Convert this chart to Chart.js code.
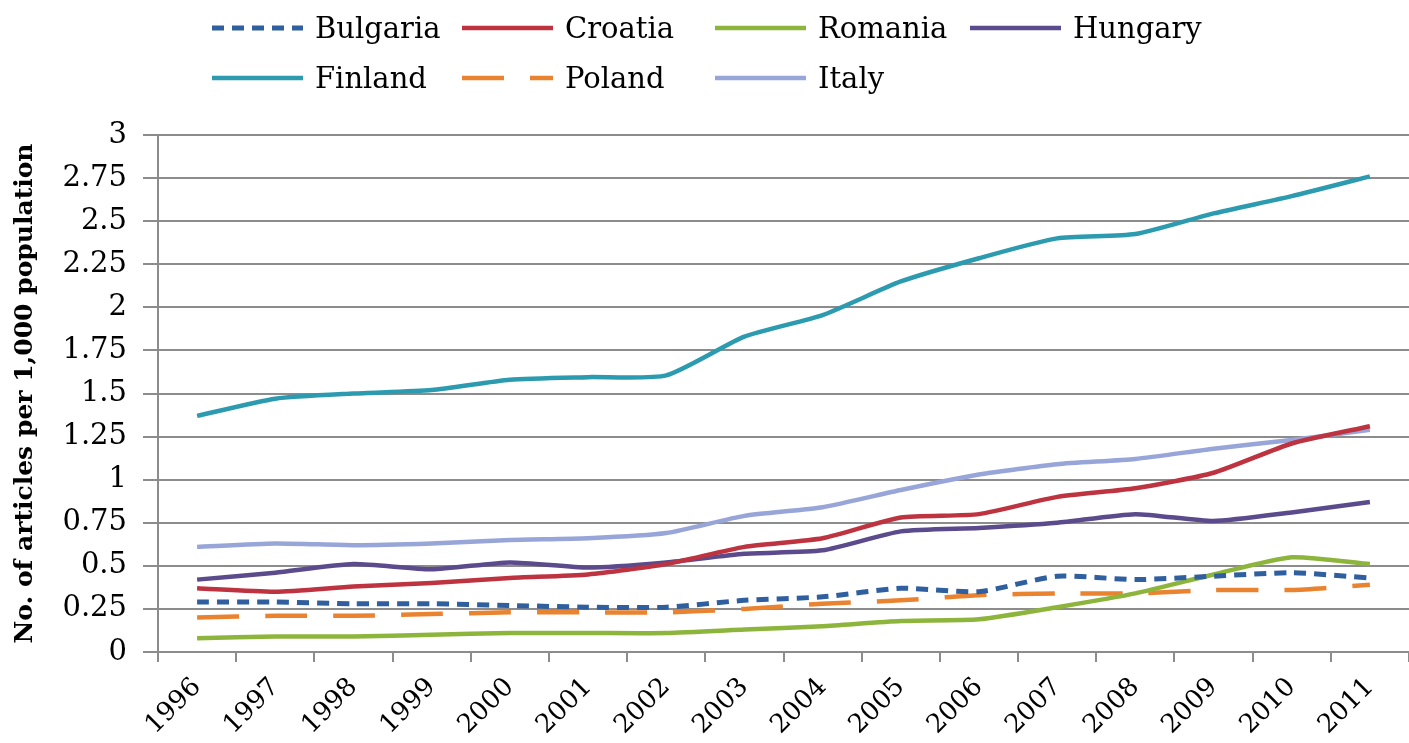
<!DOCTYPE html>
<html>
<head>
<meta charset="utf-8">
<script src="https://cdn.jsdelivr.net/npm/chart.js@4/dist/chart.umd.min.js"></script>
<style>
  html, body { margin: 0; padding: 0; background: #fff; }
  #wrap { position: relative; width: 1409px; height: 743px; }
  #wrap canvas { position: absolute; left: 0; top: 0; }
  .legend { position: absolute; left: 0; top: 0; font-family: "DejaVu Serif", serif; font-size: 29px; color: #000; }
  .item { position: absolute; display: flex; align-items: center; height: 40px; }
  .item svg { width: 91px; height: 10px; margin-right: 12px; }
</style>
</head>
<body>
<div id="wrap">
  <canvas id="chart" width="1409" height="743"></canvas>
  <div class="legend" id="legend"></div>
</div>
<script>
// years on the x axis
const years = ['1996', '1997', '1998', '1999', '2000', '2001', '2002', '2003',
               '2004', '2005', '2006', '2007', '2008', '2009', '2010', '2011'];

// articles per 1,000 population
const bulgaria = [0.29, 0.29, 0.28, 0.28, 0.27, 0.26, 0.26, 0.30, 0.32, 0.37, 0.35, 0.44, 0.42, 0.44, 0.46, 0.43];
const croatia  = [0.37, 0.35, 0.38, 0.40, 0.43, 0.45, 0.51, 0.61, 0.66, 0.78, 0.80, 0.90, 0.95, 1.04, 1.21, 1.31];
const romania  = [0.08, 0.09, 0.09, 0.10, 0.11, 0.11, 0.11, 0.13, 0.15, 0.18, 0.19, 0.26, 0.34, 0.45, 0.55, 0.51];
const hungary  = [0.42, 0.46, 0.51, 0.48, 0.52, 0.49, 0.52, 0.57, 0.59, 0.70, 0.72, 0.75, 0.80, 0.76, 0.81, 0.87];
const finland  = [1.37, 1.47, 1.50, 1.52, 1.58, 1.595, 1.605, 1.83, 1.955, 2.15, 2.285, 2.40, 2.425, 2.545, 2.645, 2.76];
const poland   = [0.20, 0.21, 0.21, 0.22, 0.23, 0.23, 0.23, 0.25, 0.28, 0.30, 0.33, 0.34, 0.34, 0.36, 0.36, 0.39];
const italy    = [0.61, 0.63, 0.62, 0.63, 0.65, 0.66, 0.69, 0.79, 0.84, 0.94, 1.03, 1.09, 1.12, 1.18, 1.23, 1.29];

// series styling, in legend order
const series = [
  { name: 'Bulgaria', data: bulgaria, color: '#2f5f9e', dash: [12, 8], width: 5 },
  { name: 'Croatia',  data: croatia,  color: '#bd3340', dash: [], width: 4.5 },
  { name: 'Romania',  data: romania,  color: '#8db53c', dash: [], width: 4.5 },
  { name: 'Hungary',  data: hungary,  color: '#5b4a8c', dash: [], width: 4.5 },
  { name: 'Finland',  data: finland,  color: '#2c9bb0', dash: [], width: 4.5 },
  { name: 'Poland',   data: poland,   color: '#ea8330', dash: [42, 26], width: 4.5 },
  { name: 'Italy',    data: italy,    color: '#98a5d8', dash: [], width: 4.5 }
];

const GRID = '#8c8c8c';

/**
 * Build the two-row legend above the plot, laid out in fixed columns
 */
function buildLegend() {
  const legend = document.getElementById('legend');
  const cols = [212, 462, 715, 970];
  const rows = [8, 58];
  series.forEach((s, i) => {
    const item = document.createElement('div');
    item.className = 'item';
    item.style.left = cols[i % 4] + 'px';
    item.style.top = rows[Math.floor(i / 4)] + 'px';
    const dash = s.dash.length ? `stroke-dasharray="${s.dash.join(' ')}"` : '';
    item.innerHTML = `<svg viewBox="0 0 91 10"><line x1="0" y1="5" x2="91" y2="5" stroke="${s.color}" stroke-width="${s.width}" ${dash}/></svg><span>${s.name}</span>`;
    legend.appendChild(item);
  });
}

buildLegend();

const ctx = document.getElementById('chart').getContext('2d');
new Chart(ctx, {
  type: 'line',
  data: {
    labels: years,
    datasets: series.map(s => ({
      label: s.name,
      data: s.data,
      borderColor: s.color,
      backgroundColor: s.color,
      borderWidth: s.width,
      borderDash: s.dash,
      pointRadius: 0,
      tension: 0.2,
      fill: false
    }))
  },
  options: {
    responsive: false,
    animation: false,
    layout: { padding: { top: 135, right: 0, left: 0, bottom: 0 } },
    plugins: {
      legend: { display: false },
      tooltip: { enabled: false }
    },
    scales: {
      x: {
        offset: true,
        grid: {
          offset: true,
          drawOnChartArea: false,
          color: GRID,
          lineWidth: 2,
          tickLength: 10
        },
        border: { color: GRID, width: 2 },
        ticks: {
          color: '#000',
          minRotation: 45,
          maxRotation: 45,
          padding: 10,
          font: { family: 'DejaVu Serif', size: 26 }
        },
        afterFit: scale => { scale.height = 91; }
      },
      y: {
        min: 0,
        max: 3,
        grid: {
          color: GRID,
          lineWidth: 2,
          tickLength: 15
        },
        border: { color: GRID, width: 2 },
        ticks: {
          stepSize: 0.25,
          color: '#000',
          padding: 16,
          font: { family: 'DejaVu Serif', size: 29 },
          callback: value => String(Math.round(value * 100) / 100)
        },
        title: {
          display: true,
          text: 'No. of articles per 1,000 population',
          color: '#000',
          padding: { top: 10, bottom: 0 },
          font: { family: 'DejaVu Serif', size: 25, weight: 'bold' }
        },
        afterFit: scale => { scale.width = 158; }
      }
    }
  }
});
</script>
</body>
</html>
